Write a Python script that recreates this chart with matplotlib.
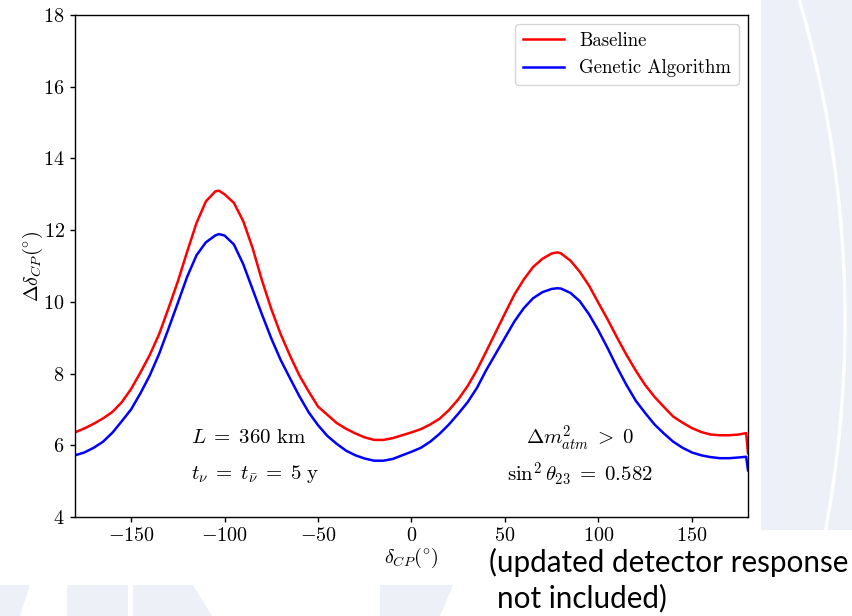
import matplotlib
matplotlib.use("Agg")
import matplotlib.pyplot as plt
from matplotlib.patches import Rectangle, Polygon, Circle

plt.rcParams["font.family"] = "serif"
plt.rcParams["font.serif"] = ["cmr10", "DejaVu Serif"]
plt.rcParams["mathtext.fontset"] = "cm"
plt.rcParams["axes.formatter.use_mathtext"] = True

# delta_CP grid (degrees)
delta_cp = [-180, -175, -170, -165, -160, -155, -150, -145, -140, -135, -130,
            -125, -120, -115, -110, -105, -103, -100, -95, -90, -85, -80, -75,
            -70, -65, -60, -55, -50, -45, -40, -35, -30, -25, -20, -15, -10,
            -5, 0, 5, 10, 15, 20, 25, 30, 35, 40, 45, 50, 55, 60, 65, 70, 75,
            78, 80, 85, 90, 95, 100, 105, 110, 115, 120, 125, 130, 135, 140,
            145, 150, 155, 160, 165, 170, 175, 179, 180]

baseline = [6.36, 6.47, 6.6, 6.75, 6.93, 7.2, 7.57, 8.03, 8.52, 9.1, 9.82,
            10.57, 11.4, 12.2, 12.8, 13.08, 13.1, 13.0, 12.76, 12.25, 11.5,
            10.6, 9.8, 9.1, 8.5, 7.95, 7.5, 7.08, 6.85, 6.62, 6.46, 6.33,
            6.22, 6.15, 6.15, 6.2, 6.28, 6.36, 6.45, 6.58, 6.74, 6.98, 7.28,
            7.65, 8.1, 8.62, 9.15, 9.68, 10.2, 10.62, 10.97, 11.2, 11.35,
            11.38, 11.35, 11.15, 10.84, 10.45, 9.97, 9.5, 9.0, 8.52, 8.08,
            7.68, 7.35, 7.07, 6.8, 6.63, 6.48, 6.37, 6.3, 6.28, 6.28, 6.3,
            6.34, 5.78]

genetic = [5.72, 5.8, 5.93, 6.1, 6.35, 6.67, 7.0, 7.45, 7.95, 8.55, 9.25,
           9.97, 10.7, 11.3, 11.66, 11.85, 11.89, 11.85, 11.6, 11.05, 10.35,
           9.65, 8.98, 8.38, 7.87, 7.37, 6.92, 6.56, 6.26, 6.04, 5.85, 5.72,
           5.63, 5.57, 5.57, 5.62, 5.72, 5.82, 5.93, 6.1, 6.32, 6.58, 6.88,
           7.2, 7.6, 8.1, 8.55, 9.0, 9.45, 9.82, 10.1, 10.27, 10.36, 10.38,
           10.37, 10.25, 10.02, 9.65, 9.2, 8.7, 8.17, 7.68, 7.24, 6.9, 6.58,
           6.33, 6.1, 5.93, 5.8, 5.72, 5.67, 5.64, 5.64, 5.66, 5.68, 5.3]

fig = plt.figure(figsize=(8.53, 6.16), dpi=100)

# slide background behind the chart image
bg = fig.add_axes([0, 0, 1, 1], zorder=-1)
bg.set_xlim(0, 853)
bg.set_ylim(616, 0)
bg.axis("off")
pale = "#edf0f7"
bg.add_patch(Rectangle((761, 0), 92, 616, color=pale, lw=0))
bg.add_patch(Circle((-300, 320), 1145, fill=False, ec="white", lw=2.5))
bg.add_patch(Polygon([(0, 585), (30, 585), (20, 616), (0, 616)], color=pale, lw=0))
bg.add_patch(Polygon([(67, 585), (128, 585), (128, 616), (67, 616)], color=pale, lw=0))
bg.add_patch(Polygon([(133, 585), (193, 585), (212, 616), (133, 616)], color=pale, lw=0))
bg.add_patch(Polygon([(380, 585), (453, 585), (440, 616), (380, 616)], color=pale, lw=0))
bg.add_patch(Rectangle((0, 0), 761, 585, color="white", lw=0))
bg.add_patch(Rectangle((487, 530), 366, 86, color="white", lw=0))
bg.text(489, 562, "(updated detector response", family="Lato", fontsize=21.3,
        va="center", ha="left", color="black")
bg.text(497, 598, "not included)", family="Lato", fontsize=21.3,
        va="center", ha="left", color="black")

ax = fig.add_axes([75 / 853, 99 / 616, 673 / 853, 502 / 616])
ax.plot(delta_cp, baseline, color="red", lw=1.8, label="Baseline")
ax.plot(delta_cp, genetic, color="blue", lw=1.8, label="Genetic Algorithm")

ax.set_xlim(-180, 180)
ax.set_ylim(4, 18)
ax.set_xticks([-150, -100, -50, 0, 50, 100, 150])
ax.set_yticks([4, 6, 8, 10, 12, 14, 16, 18])
ax.tick_params(labelsize=14.5, length=3.5, width=1, pad=4)
for s in ax.spines.values():
    s.set_linewidth(1.0)

ax.set_xlabel(r"$\delta_{CP}(^{\circ})$", fontsize=14.5, labelpad=0.5)
ax.set_ylabel(r"$\Delta\delta_{CP}(^{\circ})$", fontsize=14.5, labelpad=-1.5)

ax.text(-118, 6.2, r"$L\;=\;360\ \mathrm{km}$", fontsize=15, va="center")
ax.text(-118, 5.2, r"$t_{\nu}\;=\;t_{\bar{\nu}}\;=\;5\ \mathrm{y}$", fontsize=15, va="center")
ax.text(90, 6.2, r"$\Delta m^2_{atm}\;>\;0$", fontsize=15, va="center", ha="center")
ax.text(90, 5.2, r"$\sin^2\theta_{23}\;=\;0.582$", fontsize=15, va="center", ha="center")

ax.legend(loc="upper right", fontsize=13.5, handlelength=2.2)

fig.savefig("out.png", dpi=100)
